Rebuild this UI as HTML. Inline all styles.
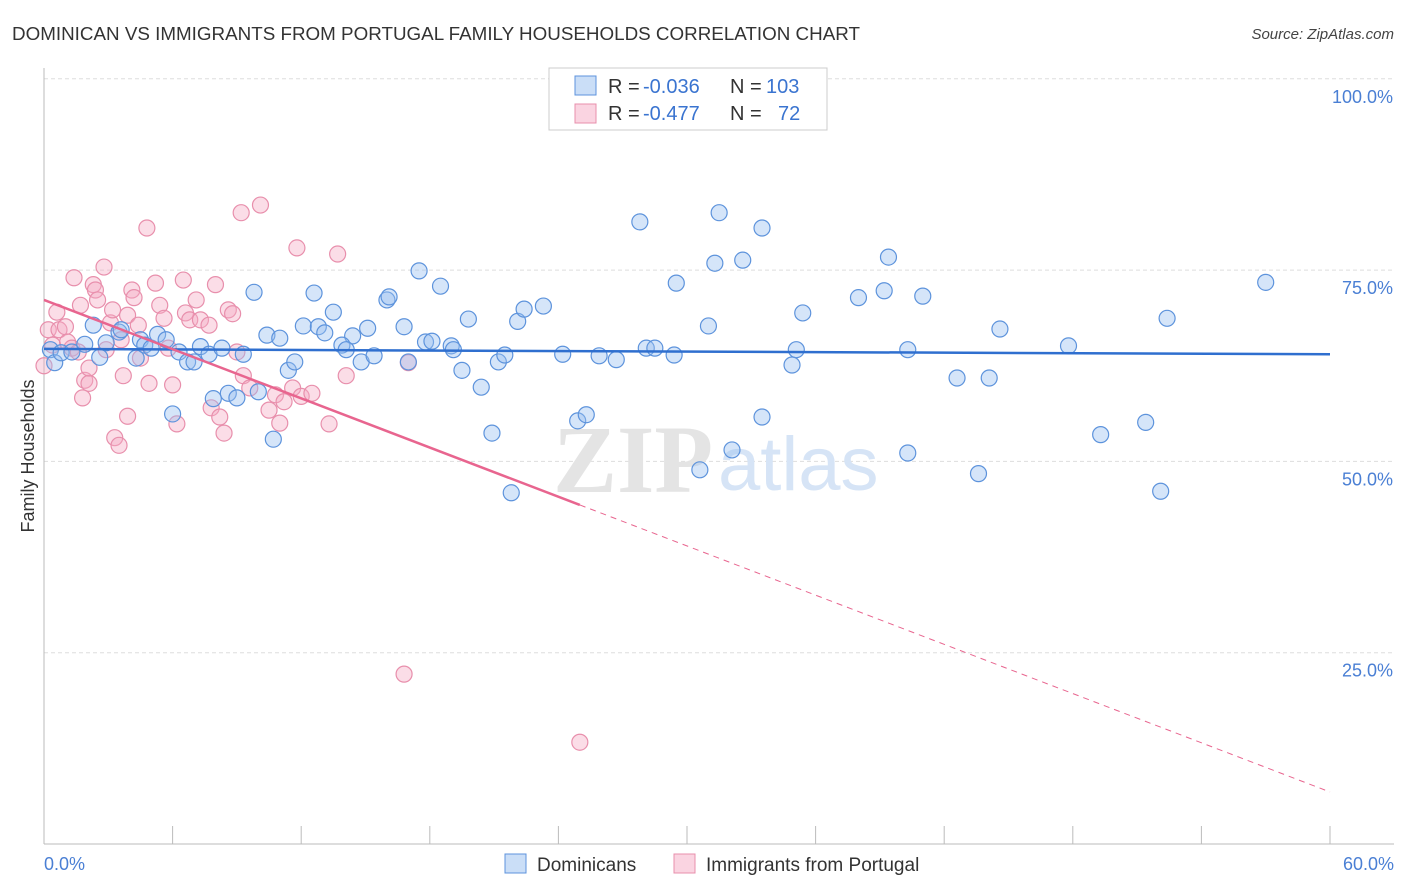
<!DOCTYPE html>
<html><head><meta charset="utf-8"><style>
body{margin:0;background:#fff;font-family:"Liberation Sans",sans-serif;}
#wrap{position:relative;width:1406px;height:892px;overflow:hidden;}
</style></head><body>
<div id="wrap">
<svg id="svg" width="1406" height="892"></svg>
</div>
<script>
const blueX=[27.8,31.5,33.5,31.3,32.6,29.5,39.4,39.2,38.0,41.0,57.0,17.5,18.5,16.0,16.1,13.5,12.1,12.6,9.8,10.4,11.0,12.8,13.1,14.4,15.1,13.9,14.1,14.8,15.4,16.8,17.0,17.8,18.1,19.0,19.1,19.8,19.5,20.4,20.9,21.2,21.5,22.1,22.4,23.3,21.8,24.2,24.9,25.3,25.9,26.7,28.1,28.5,29.4,30.6,31.0,32.1,33.5,34.9,35.1,35.4,40.3,40.3,42.6,44.1,43.6,44.6,47.8,49.3,51.4,52.1,52.4,0.3,0.5,0.8,1.3,1.9,2.3,2.6,2.9,3.5,3.6,4.3,4.5,4.7,5.0,5.3,5.7,6.0,6.3,6.7,7.0,7.3,7.7,7.9,8.3,8.6,9.0,9.3,10.0,10.7,11.4,11.7];
const blueY=[81.3,82.5,80.5,75.9,76.3,73.3,76.7,72.3,71.4,71.6,73.4,74.9,72.9,71.1,71.5,69.5,67.7,72.0,72.1,66.5,66.1,67.6,66.8,66.4,67.4,65.2,64.6,63.0,63.8,67.6,63.0,65.6,65.7,65.1,64.6,68.6,61.9,59.7,53.7,63.0,63.9,68.3,69.9,70.3,45.9,64.0,55.3,56.1,63.8,63.3,64.8,64.8,63.9,48.9,67.7,51.5,55.8,62.6,64.6,69.4,64.6,51.1,60.9,60.9,48.4,67.3,65.1,53.5,55.1,46.1,68.7,64.6,62.9,64.2,64.3,65.3,67.8,63.6,65.5,66.9,67.2,63.5,65.9,65.2,64.8,66.6,65.9,56.2,64.3,63.0,63.0,65.0,64.0,58.2,64.8,58.9,58.3,64.0,59.1,52.9,61.9,63.0];
const pinkX=[0.0,0.2,0.4,0.6,0.7,1.0,1.1,1.3,1.4,1.6,1.7,1.8,1.9,2.1,2.1,2.3,2.4,2.5,2.8,2.9,3.1,3.2,3.3,3.5,3.6,3.7,3.9,3.9,4.1,4.2,4.4,4.5,4.8,4.9,5.2,5.4,5.6,5.8,6.0,6.2,6.5,6.6,6.8,7.1,7.3,7.7,7.8,8.0,8.2,8.4,8.6,8.8,9.0,9.2,9.3,9.6,10.1,10.5,10.8,11.0,11.2,11.6,11.8,12.0,12.5,13.3,13.7,14.1,17.0,16.8,25.0];
const pinkY=[62.5,67.2,65.2,69.5,67.2,67.6,65.6,64.8,74.0,64.3,70.4,58.3,60.6,60.2,62.2,73.1,72.4,71.1,75.4,64.6,68.1,69.8,53.1,52.1,65.9,61.2,69.1,55.9,72.4,71.4,67.8,63.5,80.5,60.2,73.3,70.4,68.7,64.8,60.0,54.9,73.7,69.4,68.5,71.1,68.5,67.8,57.0,73.1,55.8,53.7,69.8,69.3,64.3,82.5,61.2,59.6,83.5,56.7,58.7,55.0,57.8,59.6,77.9,58.5,58.9,54.9,77.1,61.2,62.9,22.2,13.3];
const blueTrend=[64.7,64.0];
const pinkTrend=[71.1,6.8];
const yTicks=[25,50,75,100];
const yTickLabels=["25.0%","50.0%","75.0%","100.0%"];

const NS="http://www.w3.org/2000/svg";
const svg=document.getElementById('svg');
const X=v=>44+v*(1286/60);
const Y=v=>844-v*7.652;
function mk(tag,attrs,parent){const e=document.createElementNS(NS,tag);for(const k in attrs)e.setAttribute(k,attrs[k]);(parent||svg).appendChild(e);return e;}
function txt(s,attrs){const e=mk('text',attrs);e.textContent=s;return e;}

let t=txt("DOMINICAN VS IMMIGRANTS FROM PORTUGAL FAMILY HOUSEHOLDS CORRELATION CHART",{x:12,y:40,'font-size':18,fill:'#333',textLength:848,lengthAdjust:'spacingAndGlyphs'});

t=txt("Source: ZipAtlas.com",{x:1394,y:39,'font-size':15,fill:'#444','font-style':'italic','text-anchor':'end'});


yTicks.forEach((v,i)=>{
  const g=mk('line',{x1:44,x2:1394,y1:Y(v),y2:Y(v),stroke:'#ddd','stroke-dasharray':'4,3'});
  
  const l=txt(yTickLabels[i],{x:1393,y:Y(v)+24,'font-size':18,fill:'#4a7fd4','text-anchor':'end'});
  
});
let ax=mk('line',{x1:44,x2:44,y1:68,y2:844,stroke:'#bbb'});

ax=mk('line',{x1:44,x2:1394,y1:844,y2:844,stroke:'#bbb'});

for(let i=0;i<=10;i++){const tk=mk('line',{x1:X(i*6),x2:X(i*6),y1:826,y2:844,stroke:'#bbb'});
}
t=txt("0.0%",{x:44,y:870,'font-size':18,fill:'#4a7fd4'});
t=txt("60.0%",{x:1394,y:870,'font-size':18,fill:'#4a7fd4','text-anchor':'end'});
t=txt("Family Households",{x:34,y:456,'font-size':18,fill:'#333','text-anchor':'middle',transform:'rotate(-90 34 456)'});


t=txt("ZIP",{x:553,y:492,'font-size':96,fill:'#e4e4e4','font-family':'Liberation Serif','font-weight':'bold'});

t=txt("atlas",{x:718,y:490,'font-size':76,fill:'#d6e4f6'});


pinkX.forEach((v,i)=>{const c=mk('circle',{cx:X(v),cy:Y(pinkY[i]),r:8,fill:'rgba(245,170,195,0.4)',stroke:'#e88fac','stroke-width':1.2});
});
blueX.forEach((v,i)=>{const c=mk('circle',{cx:X(v),cy:Y(blueY[i]),r:8,fill:'rgba(150,190,240,0.4)',stroke:'#5d93dc','stroke-width':1.2});
});

let tl=mk('line',{x1:X(0),y1:Y(blueTrend[0]),x2:X(60),y2:Y(blueTrend[1]),stroke:'#2f6fcf','stroke-width':2.5});

const py=x=>pinkTrend[0]+(pinkTrend[1]-pinkTrend[0])*x/60;
tl=mk('line',{x1:X(0),y1:Y(py(0)),x2:X(25),y2:Y(py(25)),stroke:'#e8658f','stroke-width':2.5});

tl=mk('line',{x1:X(25),y1:Y(py(25)),x2:X(60),y2:Y(py(60)),stroke:'#e8658f','stroke-width':1,'stroke-dasharray':'6,5'});


let lg=mk('g',{});
mk('rect',{x:549,y:68,width:278,height:62,fill:'#fff',stroke:'#ccc'},lg);
mk('rect',{x:575,y:76,width:21,height:19,fill:'rgba(150,190,240,0.5)',stroke:'#5d93dc'},lg);
mk('rect',{x:575,y:104,width:21,height:19,fill:'rgba(245,170,195,0.5)',stroke:'#e88fac'},lg);
function lt(s,x,y,c){const e=mk('text',{x:x,y:y,'font-size':20,fill:c},lg);e.textContent=s;return e;}
lt("R = ",608,93,'#333');lt("-0.036",643,93,'#3a74d0');lt("N = ",730,93,'#333');lt("103",766,93,'#3a74d0');
lt("R = ",608,120,'#333');lt("-0.477",643,120,'#3a74d0');lt("N = ",730,120,'#333');lt("72",778,120,'#3a74d0');

let bl=mk('g',{});
mk('rect',{x:505,y:854,width:21,height:19,fill:'rgba(150,190,240,0.5)',stroke:'#5d93dc'},bl);
let e=mk('text',{x:537,y:871,'font-size':19,fill:'#333'},bl);e.textContent="Dominicans";
mk('rect',{x:674,y:854,width:21,height:19,fill:'rgba(245,170,195,0.5)',stroke:'#e88fac'},bl);
e=mk('text',{x:706,y:871,'font-size':19,fill:'#333'},bl);e.textContent="Immigrants from Portugal";
</script>
</body></html>
